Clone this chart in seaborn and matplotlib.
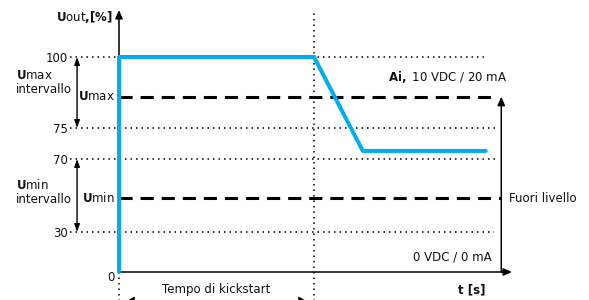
import numpy as np
import pandas as pd
import matplotlib
matplotlib.use("Agg")
import matplotlib.pyplot as plt
import seaborn as sns

# output signal over time (t in arbitrary units, u in %)
t_pts = [0, 0, 10, 12.5, 18.8]
u_pts = [0, 100, 100, 71.3, 71.3]

# reference levels
level_ticks = [30, 70, 75, 100]
tick_labels = ["30", "70", "75", "100"]
u_max = 86
u_min = 48.6
t_kick = 10

# the y axis of the sketch is not linear: value -> drawn height
scale_vals = [0, 30, 70, 75, 100, 116.5]
scale_pos = [0, 40, 113, 144, 215, 262]

def fwd(v):
    return np.interp(v, scale_vals, scale_pos)

def inv(p):
    return np.interp(p, scale_pos, scale_vals)

sns.set_style("white")
plt.rcParams["font.family"] = ["DejaVu Sans"]
plt.rcParams["mathtext.fontset"] = "dejavusans"
plt.rcParams["text.color"] = "#111111"
plt.rcParams["ytick.color"] = "#111111"
fs = 8.5
blue = "#00AEEF"

fig = plt.figure(figsize=(5.89, 3.0), dpi=100)
ax = fig.add_axes([119 / 589, 28 / 300, 393 / 589, 262 / 300])
ax.set_yscale("function", functions=(fwd, inv))
ax.set_xlim(0, 20.15)
ax.set_ylim(0, 116.5)
for s in ax.spines.values():
    s.set_visible(False)
ax.set_xticks([])
ax.set_yticks(level_ticks)
ax.set_yticklabels(tick_labels, fontsize=fs)
ax.tick_params(axis="y", length=0, pad=36.5, labelcolor="#111111")
ax.yaxis.set_minor_locator(matplotlib.ticker.NullLocator())
ax.grid(False)

# dotted level lines
dot = (0, (1, 2.6))
ends = {30: 19.23, 70: 19.38, 75: 19.38, 100: 18.87}
for lv in level_ticks:
    ax.plot([-2.5, ends[lv]], [lv, lv], color="k", lw=1.1, ls=dot, clip_on=False)

# dashed Umax / Umin lines
dash = (0, (4.3, 2.6))
ax.plot([0, 19.38], [u_max, u_max], color="k", lw=2.2, ls=dash)
ax.plot([0, 19.6], [u_min, u_min], color="k", lw=2.2, ls=dash)

# vertical dotted lines
tr = ax.get_xaxis_transform()
ax.plot([t_kick, t_kick], [-0.11, 0.995], transform=tr, color="k", lw=1.1, ls=dot, clip_on=False)
ax.plot([0, 0], [-0.11, 0], transform=tr, color="k", lw=1.1, ls=dot, clip_on=False)

# axes with arrows
ap = dict(arrowstyle="-|>,head_length=0.5,head_width=0.22", lw=1.1, color="k", shrinkA=0, shrinkB=0)
ax.annotate("", xy=(0, 1.0), xytext=(0, 0), xycoords="axes fraction", arrowprops=ap)
ax.annotate("", xy=(1.0, 0), xytext=(0, 0), xycoords="axes fraction", arrowprops=ap)

# signal
df = pd.DataFrame({"t": t_pts, "u": u_pts})
sns.lineplot(data=df, x="t", y="u", estimator=None, sort=False, color=blue, lw=2.9, ax=ax,
             clip_on=False, zorder=5)
ax.set_xlabel("")
ax.set_ylabel("")

# double arrows for the intervals
dap = dict(arrowstyle="<|-|>,head_length=0.45,head_width=0.16", lw=1.0, color="k", shrinkA=0, shrinkB=0)
ax.annotate("", xy=(-2.15, 75), xytext=(-2.15, 100), arrowprops=dap, annotation_clip=False)
ax.annotate("", xy=(-2.15, 30), xytext=(-2.15, 70), arrowprops=dap, annotation_clip=False)
kap = dict(arrowstyle="<|-|>,head_length=0.5,head_width=0.3", lw=1.0, color="k", shrinkA=0, shrinkB=0)
ax.annotate("", xy=(0.35, -0.113), xytext=(t_kick - 0.35, -0.113), xycoords=("data", "axes fraction"),
            arrowprops=kap, annotation_clip=False)

# out of range arrow
ax.annotate("", xy=(19.6, u_max), xytext=(19.6, 0), arrowprops=ap, annotation_clip=False)

# texts
ax.text(-0.3, 114.1, r"$\mathbf{U}$out$\mathbf{,\![\%]}$", ha="right", va="center", fontsize=fs, clip_on=False)
ax.text(-0.2, -0.022, "0", transform=tr, ha="right", va="center", fontsize=fs)
ax.text(-5.3, 91, "$\\mathbf{U}$max\nintervallo", ha="left", va="center", fontsize=fs, linespacing=1.1)
ax.text(-5.3, 52, "$\\mathbf{U}$min\nintervallo", ha="left", va="center", fontsize=fs, linespacing=1.1)
ax.text(-0.2, u_max, r"$\mathbf{U}$max", ha="right", va="center", fontsize=fs)
ax.text(-0.2, u_min, r"$\mathbf{U}$min", ha="right", va="center", fontsize=fs)
ax.text(19.9, 93, r"$\mathbf{Ai,}$ 10 VDC / 20 mA", ha="right", va="center", fontsize=fs)
ax.text(19.13, 11.3, "0 VDC / 0 mA", ha="right", va="center", fontsize=fs)
ax.text(20.0, u_min, "Fuori livello", ha="left", va="center", fontsize=fs, clip_on=False)
ax.text(18.77, -0.069, "t [s]", transform=tr, ha="right", va="center", fontsize=fs, fontweight="bold")
ax.text(t_kick / 2, -0.065, "Tempo di kickstart", transform=tr, ha="center", va="center", fontsize=fs)

fig.savefig("out.png", dpi=100)
